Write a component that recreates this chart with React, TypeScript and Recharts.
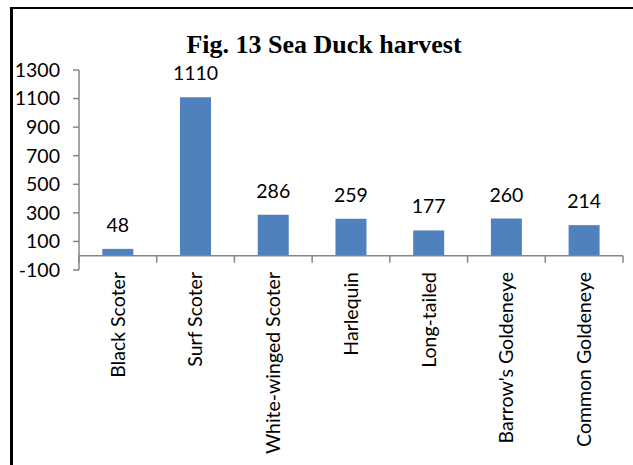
import React from 'react';
import { BarChart, Bar, XAxis, YAxis, ReferenceLine, LabelList } from 'recharts';

const categories = [
  'Black Scoter',
  'Surf Scoter',
  'White-winged Scoter',
  'Harlequin',
  'Long-tailed',
  "Barrow's Goldeneye",
  'Common Goldeneye',
];
const harvest = [48, 1110, 286, 259, 177, 260, 214];
const yTicks = [-100, 100, 300, 500, 700, 900, 1100, 1300];
const titleText = 'Fig. 13 Sea Duck harvest';

const data = categories.map((name, i) => ({ name, value: harvest[i] }));

const W = 633;
const H = 465;
const MARGIN = { top: 70, right: 10, left: 0, bottom: 0 };
const Y_AXIS_W = 79;
const X_AXIS_H = 195;
const Y_MIN = -100;
const Y_MAX = 1300;
const LABEL_GAP = 2;
const PLOT_H = H - MARGIN.top - MARGIN.bottom - X_AXIS_H;
const PLOT_W = W - MARGIN.left - MARGIN.right - Y_AXIS_W;
const ZERO_OFFSET = (PLOT_H * (0 - Y_MIN)) / (Y_MAX - Y_MIN);
const HALF_BAND = PLOT_W / categories.length / 2;
const AXIS_COLOR = '#868686';
const FONT = 'Lato, "Open Sans", sans-serif';
const FS = 19.5;

const CategoryTick = (props: any) => {
  const { x, y, payload, index, visibleTicksCount } = props;
  const half = payload && typeof payload.offset === 'number' && payload.offset > 0 ? payload.offset : HALF_BAND;
  const axisY = y - LABEL_GAP;
  const zeroY = axisY - ZERO_OFFSET;
  return (
    <g>
      <line x1={x - half} x2={x - half} y1={zeroY} y2={zeroY + 7} stroke={AXIS_COLOR} strokeWidth={1.5} />
      {index === visibleTicksCount - 1 && (
        <line x1={x + half} x2={x + half} y1={zeroY} y2={zeroY + 7} stroke={AXIS_COLOR} strokeWidth={1.5} />
      )}
      <text
        x={x}
        y={y}
        dy="0.35em"
        textAnchor="end"
        transform={`rotate(-90, ${x}, ${y})`}
        fill="#000"
        fontSize={FS}
        fontFamily={FONT}
      >
        {payload.value}
      </text>
    </g>
  );
};

export default function App() {
  return (
    <div style={{ position: 'absolute', left: 0, top: 0, width: W, height: H, background: '#fff' }}>
      <div
        style={{
          position: 'absolute',
          left: 10,
          top: 7,
          width: W - 10,
          height: H - 7,
          borderLeft: '3px solid #000',
          borderTop: '2px solid #000',
          boxSizing: 'border-box',
        }}
      />
      <div
        style={{
          position: 'absolute',
          left: 324,
          top: 32,
          transform: 'translateX(-50%)',
          whiteSpace: 'nowrap',
          fontFamily: '"Liberation Serif", "Times New Roman", serif',
          fontWeight: 'bold',
          fontSize: 26,
          lineHeight: '26px',
          color: '#000',
        }}
      >
        {titleText}
      </div>
      <div style={{ position: 'absolute', left: 0, top: 0 }}>
        <BarChart width={W} height={H} data={data} margin={MARGIN} barCategoryGap="30%">
          <YAxis
            width={Y_AXIS_W}
            domain={[Y_MIN, Y_MAX]}
            ticks={yTicks}
            interval={0}
            allowDataOverflow
            tickSize={6}
            tickMargin={13}
            stroke={AXIS_COLOR}
            axisLine={{ stroke: AXIS_COLOR, strokeWidth: 1.5 }}
            tickLine={{ stroke: AXIS_COLOR, strokeWidth: 1.5 }}
            tick={{ fill: '#000', fontSize: FS, fontFamily: FONT }}
          />
          <XAxis
            dataKey="name"
            height={X_AXIS_H}
            interval={0}
            axisLine={false}
            tickLine={false}
            tickSize={0}
            tickMargin={LABEL_GAP}
            tick={<CategoryTick />}
          />
          <ReferenceLine y={0} stroke={AXIS_COLOR} strokeWidth={1.5} />
          <Bar dataKey="value" fill="#4F81BD" isAnimationActive={false}>
            <LabelList dataKey="value" position="top" offset={17} fill="#000" fontSize={FS} fontFamily={FONT} />
          </Bar>
        </BarChart>
      </div>
    </div>
  );
}
